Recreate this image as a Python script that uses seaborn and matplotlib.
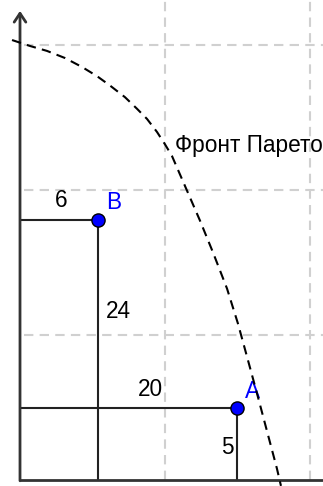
import matplotlib
matplotlib.use("Agg")
import matplotlib.pyplot as plt
import seaborn as sns
import pandas as pd

# --- data (grid step = 1 unit) ---
front_x = [-0.055, 0.069, 0.186, 0.310, 0.428, 0.531, 0.621, 0.724, 0.807,
           0.876, 0.945, 1.000, 1.048, 1.124, 1.241, 1.331, 1.428, 1.503,
           1.566, 1.634, 1.703, 1.772, 1.800]
front_y = [3.034, 2.993, 2.959, 2.910, 2.848, 2.785, 2.720, 2.640, 2.560,
           2.490, 2.400, 2.315, 2.235, 2.060, 1.790, 1.570, 1.320, 1.080,
           0.850, 0.600, 0.340, 0.080, -0.040]

point_names = ["A", "B"]
point_x = [1.50, 0.54]
point_y = [0.50, 1.79]
point_x_labels = ["20", "6"]
point_y_labels = ["5", "24"]
front_label = "Фронт Парето"

grid_x = [1, 2]
grid_y = [1, 2, 3]

sns.set_style("white")
plt.rcParams["font.family"] = ["Liberation Sans", "DejaVu Sans"]

fig = plt.figure(figsize=(3.23, 4.86), dpi=100)
ax = fig.add_axes([0, 0, 1, 1])
ax.set_xlim(-0.138, 2.09)
ax.set_ylim(-0.041, 3.31)
ax.axis("off")

grid_kw = dict(color="#d0d0d0", lw=1.5, dashes=(4.5, 3), zorder=1)
for gx in grid_x:
    ax.plot([gx, gx], [0, 3.31], **grid_kw)
for gy in grid_y:
    ax.plot([0.03, 2.09], [gy, gy], **grid_kw)

# axes
ax.plot([0, 2.09], [0, 0], color="#333333", lw=2, zorder=3, solid_capstyle="butt")
ax.annotate("", xy=(0, 3.235), xytext=(0, -0.005),
            arrowprops=dict(arrowstyle="->,head_length=0.45,head_width=0.3",
                            lw=2, color="#333333", shrinkA=0, shrinkB=0,
                            mutation_scale=14), zorder=3)

# pareto front
front = pd.DataFrame({"x": front_x, "y": front_y})
sns.lineplot(data=front, x="x", y="y", sort=False, ax=ax, color="black",
             lw=1.5, zorder=4)
ax.lines[-1].set_dashes((4.5, 3))

# point guide lines
for px, py in zip(point_x, point_y):
    ax.plot([0, px], [py, py], color="#222222", lw=1.5, zorder=2)
    ax.plot([px, px], [0, py], color="#222222", lw=1.5, zorder=2)

pts = pd.DataFrame({"x": point_x, "y": point_y, "name": point_names})
sns.scatterplot(data=pts, x="x", y="y", ax=ax, s=90, color="#0000ff",
                edgecolor="black", linewidth=1, zorder=5, legend=False)

fs = 16.3
txt = dict(fontsize=fs, ha="center", va="baseline", color="black")
# labels: A
ax.text(1.607, 0.566, point_names[0], **{**txt, "color": "#0000ff"})
ax.text(0.897, 0.579, point_x_labels[0], **txt)
ax.text(1.428, 0.179, point_y_labels[0], **txt)
# labels: B
ax.text(0.648, 1.869, point_names[1], **{**txt, "color": "#0000ff"})
ax.text(0.283, 1.883, point_x_labels[1], **txt)
ax.text(0.676, 1.117, point_y_labels[1], **txt)
# front label
ax.text(1.069, 2.262, front_label, fontsize=fs, ha="left", va="baseline", color="black")

ax.set_xlabel("")
ax.set_ylabel("")
fig.savefig("out.png", dpi=100)
